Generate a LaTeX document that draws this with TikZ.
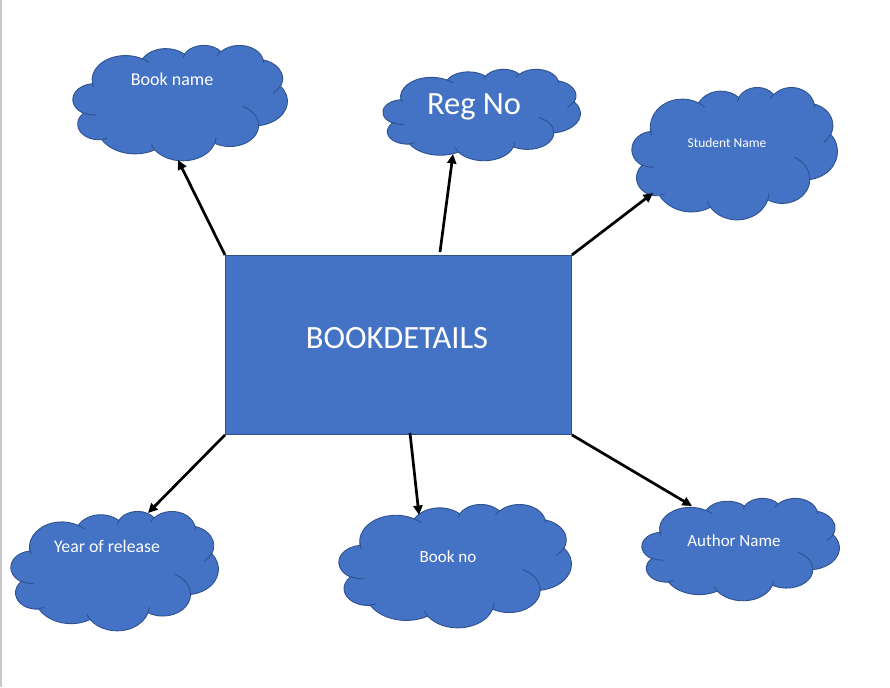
\documentclass[tikz,border=0pt]{standalone}
\usepackage{fontspec}
\setmainfont{Carlito}
\usetikzlibrary{arrows.meta,calc}

\definecolor{shapeblue}{HTML}{4472C4}
\definecolor{shapeedge}{HTML}{2F528F}
\definecolor{pageedge}{HTML}{C8C8C8}

% Angles of the cloud outline are visual (ray) angles on each ellipse;
% convert them to the parametric angles that TikZ arcs use.
\newcommand\cldang[4]{%
  \pgfmathsetmacro\cldta{atan2((#1)*sin(#3),(#2)*cos(#3))}%
  \pgfmathsetmacro\cldtb{atan2((#1)*sin((#3)+(#4)),(#2)*cos((#3)+(#4)))}%
  \pgfmathsetmacro\cldd{\cldtb-\cldta}%
  \pgfmathsetmacro\cldd{\cldd+360*round(((#4)-\cldd)/360)}%
}

% Cloud drawn in a 43.2 x 43.2 frame filling the node given as #1
\newcommand\cloudin[1]{%
  \path let \p1=(#1.north west), \p2=(#1.south east) in
    \pgfextra{%
      \pgfmathsetmacro\cldsx{(\x2-\x1)/43.2}%
      \pgfmathsetmacro\cldsy{(\y1-\y2)/43.2}%
      \begin{scope}[shift={(#1.north west)}, xscale=\cldsx, yscale=\cldsy]
        \path[cloudbody] (3.900,14.370)
          \foreach \w/\h/\s/\d in {
            6.753/9.190/-190.4875/123.7805,
            5.333/7.267/-144.1024/89.9452,
            4.365/5.945/-145.8079/99.7230,
            4.857/6.595/-130.9861/117.2417,
            5.333/7.273/-78.7089/109.0269,
            6.775/9.220/-46.2673/130.2690,
            5.785/7.867/0.6250/114.0333,
            6.752/9.215/22.4516/115.1726,
            7.720/10.543/66.2426/75.7110,
            4.360/5.918/-274.9421/146.7356,
            4.345/5.945/-246.8285/152.5225}
          {\pgfextra{\cldang{\w}{\h}{\s}{\d}}
           arc[x radius=\w, y radius=\h, start angle=\cldta, delta angle=\cldd]}
          -- cycle;
        \foreach \mx/\my/\w/\h/\s/\d in {
            4.693/26.177/4.345/5.945/86.7420/26.4295,
            6.928/34.899/4.360/5.918/73.6105/11.4475,
            16.478/39.090/6.752/9.215/137.6242/14.0811,
            28.827/34.751/6.752/9.215/6.4533/15.9984,
            34.129/22.954/5.785/7.867/-70.2924/70.9174,
            41.798/15.354/5.333/7.273/30.3180/27.7515,
            38.324/5.426/4.857/6.595/-13.7443/14.8589,
            29.078/3.952/4.857/6.595/-149.1815/18.1954,
            22.141/4.720/4.365/5.945/-163.4943/17.8409,
            14.000/5.192/6.753/9.190/-66.7070/12.3194,
            4.127/15.789/6.753/9.190/162.0450/16.7093}
          {\cldang{\w}{\h}{\s}{\d}
           \draw[cloudcrease] (\mx,\my)
             arc[x radius=\w, y radius=\h, start angle=\cldta, delta angle=\cldd];}
      \end{scope}%
    };%
}

\begin{document}
\begin{tikzpicture}[x=1pt, y=-1pt,
  cloudframe/.style={rectangle, inner sep=0pt, anchor=north west},
  cloudbody/.style={fill=shapeblue, draw=shapeedge, line width=0.9pt},
  cloudcrease/.style={draw=shapeedge, line width=0.9pt},
  entity/.style={rectangle, fill=shapeblue, draw=shapeedge, line width=0.9pt,
    inner sep=0pt, anchor=north west},
  attrtext/.style={text=white, anchor=base, inner sep=0pt},
  link/.style={line width=2.7pt, -{Triangle[length=9.5pt, width=9pt]}}]

  \useasboundingbox (0,0) rectangle (890,687);
  \fill[white] (0,0) rectangle (890,687);
  \draw[pageedge, line width=1.5pt] (0.75,0) -- (0.75,687);

  % central entity
  \node[entity, minimum width=346pt, minimum height=179pt] (book) at (225,255) {};
  \node[attrtext, font=\fontsize{32.5}{32.5}\selectfont] (booklabel) at (397,348) {BOOKDETAILS};

  % attribute clouds
  \node[cloudframe, minimum width=214pt, minimum height=115pt] (bname) at (73,45) {};
  \node[cloudframe, minimum width=197pt, minimum height=91pt] (regno) at (383,69) {};
  \node[cloudframe, minimum width=205pt, minimum height=132pt] (sname) at (632,87) {};
  \node[cloudframe, minimum width=207pt, minimum height=119pt] (year) at (11,511) {};
  \node[cloudframe, minimum width=232pt, minimum height=123pt] (bno) at (339,504) {};
  \node[cloudframe, minimum width=197pt, minimum height=102pt] (aname) at (642,498) {};

  \cloudin{bname}
  \cloudin{regno}
  \cloudin{sname}
  \cloudin{year}
  \cloudin{bno}
  \cloudin{aname}

  \node[attrtext, font=\fontsize{18}{18}\selectfont] (bnamet) at (172,86) {Book name};
  \node[attrtext, font=\fontsize{32.5}{32.5}\selectfont] (regnot) at (474,115) {Reg No};
  \node[attrtext, font=\fontsize{13.5}{13.5}\selectfont] (snamet) at (727,147) {Student Name};
  \node[attrtext, font=\fontsize{17.8}{17.8}\selectfont] (yeart) at (107,552) {Year of release};
  \node[attrtext, font=\fontsize{17}{17}\selectfont] (bnot) at (448,562) {Book no};
  \node[attrtext, font=\fontsize{17}{17}\selectfont] (anamet) at (734,546) {Author Name};

  % connector end points
  \coordinate (regfoot) at (440,252);
  \coordinate (nofoot) at (410,433);
  \coordinate (bnamein) at (178,160);
  \coordinate (regnoin) at (453,154);
  \coordinate (snamein) at (653,193);
  \coordinate (yearin) at (148,513);
  \coordinate (bnoin) at (419,515);
  \coordinate (anamein) at (692,506);

  \draw[link] (book.north west) -- (bnamein);
  \draw[link] (regfoot) -- (regnoin);
  \draw[link] (book.north east) -- (snamein);
  \draw[link] (book.south west) -- (yearin);
  \draw[link] (nofoot) -- (bnoin);
  \draw[link] (book.south east) -- (anamein);
\end{tikzpicture}
\end{document}
